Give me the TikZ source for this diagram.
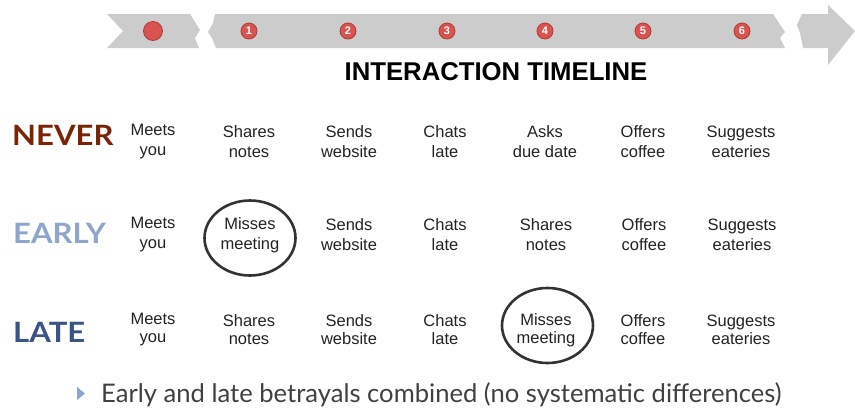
\documentclass[tikz,border=0pt]{standalone}
\usepackage{fontspec}
\setmainfont{Liberation Sans}
\newfontfamily\lato{Lato}
\usetikzlibrary{shapes.geometric}
\definecolor{band}{HTML}{CCCCCC}
\definecolor{dotred}{HTML}{D9534F}
\definecolor{dotedge}{HTML}{B03A36}
\definecolor{neverc}{HTML}{7A2407}
\definecolor{earlyc}{HTML}{8EA5CC}
\definecolor{latec}{HTML}{3A5485}
\definecolor{txt}{HTML}{222222}
\definecolor{bul}{HTML}{404040}
\tikzset{
  numtxt/.style={inner sep=0pt,text=white,font=\fontsize{11}{11}\selectfont\bfseries},
  disc/.style={fill=dotred,draw=dotedge,line width=0.8pt},
  evt/.style={align=center,text=txt,font=\fontsize{16.5}{20}\selectfont,inner sep=0pt},
  evtb/.style={align=center,text=txt,font=\fontsize{16.5}{18}\selectfont,inner sep=0pt},
  rowlab/.style={anchor=base west,inner sep=0pt,font=\lato\fontsize{28}{28}\selectfont\bfseries},
  ring/.style={ellipse,draw=black!80,line width=2.6pt,minimum width=91pt,minimum height=75pt,inner sep=0pt},
}
\begin{document}
\begin{tikzpicture}[x=1pt,y=-1pt]
\useasboundingbox (0,0) rectangle (855,408);
% timeline band
\fill[band] (107,14) -- (190,14) -- (200,30) -- (195,38) -- (199,48) -- (107,48) -- (123,31) -- cycle;
\fill[band] (215,14) -- (773,14) -- (785,32) -- (780,38) -- (785,48) -- (216,48) -- (212,38) -- (208,32) -- (213,23) -- cycle;
\fill[band] (802,14) -- (828,14) -- (828,5) -- (855,31) -- (828,65) -- (828,48) -- (803,48) -- (800,33) -- (797,25) -- cycle;
% dots
\coordinate (d0) at (153,31);
\filldraw[disc] (d0) circle (9.5);
\foreach \n/\x in {1/249,2/348,3/447,4/545,5/643,6/742}{
  \filldraw[disc] (\x,31) circle (8);
  \node[numtxt] (d\n) at (\x,31) {\n};
}
\node[font=\fontsize{25.7}{26}\selectfont\bfseries,inner sep=0pt] (title) at (496,72) {INTERACTION TIMELINE};
% row labels
\node[rowlab,text=neverc] (never) at (12,145) {\scalebox{1.11}[1]{NEVER}};
\node[rowlab,text=earlyc] (early) at (13,243) {\scalebox{1.11}[1]{EARLY}};
\node[rowlab,text=latec] (late) at (13,342) {\scalebox{1.11}[1]{LATE}};
% NEVER row
\node[evt] (n1) at (153,142) {Meets\\you};
\node[evt] (n2) at (249,142) {Shares\\notes};
\node[evt] (n3) at (349,142) {Sends\\website};
\node[evt] (n4) at (445,142) {Chats\\late};
\node[evt] (n5) at (545,142) {Asks\\due date};
\node[evt] (n6) at (643,142) {Offers\\coffee};
\node[evt] (n7) at (741,142) {Suggests\\eateries};
% EARLY row
\node[evt] (e1) at (153,235) {Meets\\you};
\node[evt] (e2) at (250,235) {Misses\\meeting};
\node[evt] (e3) at (349,235) {Sends\\website};
\node[evt] (e4) at (445,235) {Chats\\late};
\node[evt] (e5) at (546,235) {Shares\\notes};
\node[evt] (e6) at (644,235) {Offers\\coffee};
\node[evt] (e7) at (742,235) {Suggests\\eateries};
% LATE row
\node[evtb] (l1) at (153,330) {Meets\\you};
\node[evtb] (l2) at (249,330) {Shares\\notes};
\node[evtb] (l3) at (349,330) {Sends\\website};
\node[evtb] (l4) at (445,330) {Chats\\late};
\node[evtb] (l5) at (546,330) {Misses\\meeting};
\node[evtb] (l6) at (643,330) {Offers\\coffee};
\node[evtb] (l7) at (741,330) {Suggests\\eateries};
% rings
\node[ring] (r1) at (250,238) {};
\node[ring] (r2) at (547.5,325.5) {};
% bullet
\fill[earlyc] (77,387) -- (85,393.5) -- (77,400) -- cycle;
\node[anchor=base west,inner sep=0pt,text=bul,font=\lato\fontsize{25.6}{26}\selectfont] (bullet) at (101,402) {Early and late betrayals combined (no systematic differences)};
\end{tikzpicture}
\end{document}
